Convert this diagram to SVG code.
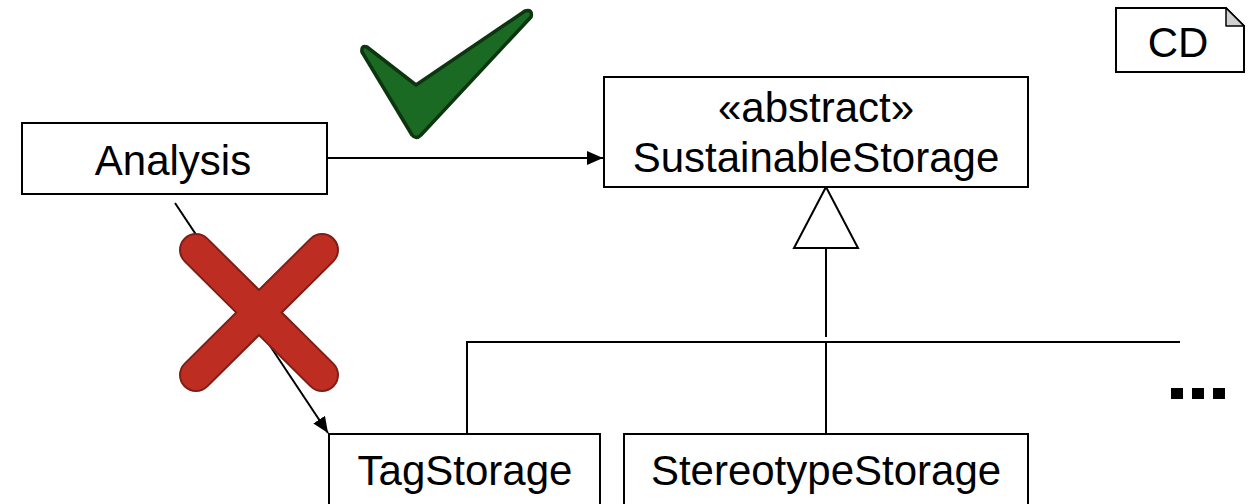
<svg xmlns="http://www.w3.org/2000/svg" width="1255" height="504" viewBox="0 0 1255 504">
<style>
.box{fill:#fff;stroke:#000;stroke-width:2}
.t{font-family:"Liberation Sans",Arial,sans-serif;font-size:42px;fill:#000;text-anchor:middle}
.ln{fill:none;stroke:#000;stroke-width:2}
</style>
<defs>
<marker id="arr" viewBox="0 0 16 14" refX="16" refY="7" markerWidth="16" markerHeight="14" markerUnits="userSpaceOnUse" orient="auto">
<path d="M0,0 L16,7 L0,14 Z" fill="#000"/>
</marker>
</defs>
<rect width="1255" height="504" fill="#fff"/>
<g id="connectors">
<line class="ln" x1="327" y1="158" x2="603" y2="158" marker-end="url(#arr)"/>
<line class="ln" x1="175" y1="203" x2="328" y2="433" marker-end="url(#arr)"/>
<polyline class="ln" points="467,433 467,342 1180,342"/>
<line class="ln" x1="826" y1="342" x2="826" y2="433"/>
<line class="ln" x1="826" y1="337" x2="826" y2="248"/>
<polygon points="826,187 858,248 794,248" fill="#fff" stroke="#000" stroke-width="2"/>
</g>
<g id="analysis">
<rect class="box" x="22" y="123" width="305" height="71"/>
<text class="t" x="173" y="175">Analysis</text>
</g>
<g id="sustainable">
<rect class="box" x="604" y="77" width="424" height="110"/>
<text class="t" x="816" y="122">«abstract»</text>
<text class="t" x="816" y="172">SustainableStorage</text>
</g>
<g id="tagstorage">
<rect class="box" x="329" y="434" width="271" height="90"/>
<text class="t" x="465" y="485">TagStorage</text>
</g>
<g id="stereotypestorage">
<rect class="box" x="624" y="434" width="404" height="90"/>
<text class="t" x="826" y="485">StereotypeStorage</text>
</g>
<g id="cd">
<path d="M1116,8 L1226,8 L1244,26 L1244,72 L1116,72 Z" fill="#fff" stroke="#000" stroke-width="2"/>
<path d="M1226,8 L1226,26 L1244,26 Z" fill="#d0d0d0" stroke="#000" stroke-width="1.5" stroke-linejoin="round"/>
<text class="t" x="1178" y="57">CD</text>
</g>
<g id="more">
<rect x="1171" y="388" width="12" height="11" fill="#000"/>
<rect x="1192" y="388" width="12" height="11" fill="#000"/>
<rect x="1213" y="388" width="12" height="11" fill="#000"/>
</g>
<g id="check">
<path d="M362,52 Q361,45 367,47 L416,85 L525,11 Q533,9 531,17 L421,135 Q416,140 412,135 Z" fill="#1B6A24" stroke="#0C3510" stroke-width="3.5" stroke-linejoin="round"/>
</g>
<g id="cross" stroke-linecap="round">
<line x1="196" y1="250" x2="322" y2="375" stroke="#7E1E16" stroke-width="34"/>
<line x1="322" y1="250" x2="196" y2="375" stroke="#7E1E16" stroke-width="34"/>
<line x1="196" y1="250" x2="322" y2="375" stroke="#BE2D22" stroke-width="30"/>
<line x1="322" y1="250" x2="196" y2="375" stroke="#BE2D22" stroke-width="30"/>
</g>
</svg>
